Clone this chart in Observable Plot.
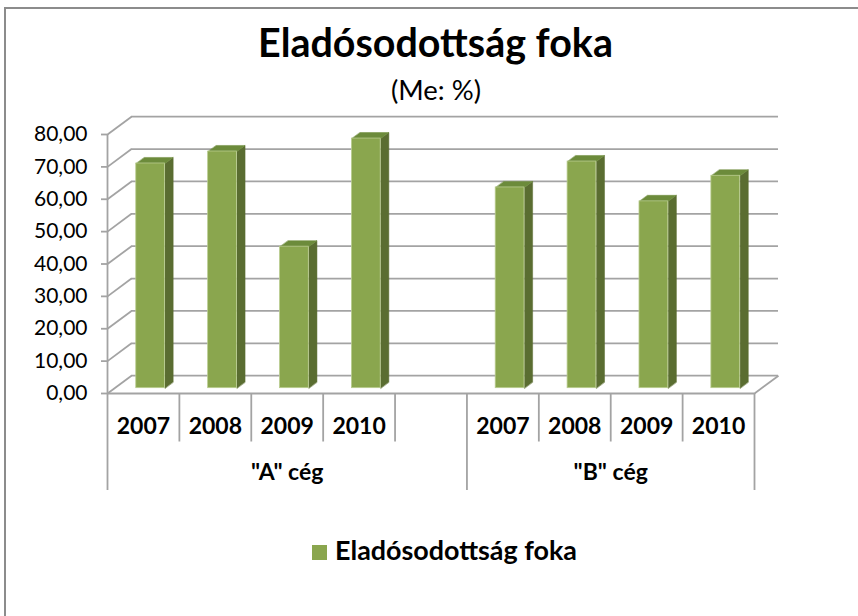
<!DOCTYPE html>
<html>
<head>
<meta charset="utf-8">
<script src="https://cdn.jsdelivr.net/npm/d3@7"></script>
<script src="https://cdn.jsdelivr.net/npm/@observablehq/plot@0.6"></script>
<style>
  body { margin: 0; background: #fff; }
  #wrap { position: relative; width: 858px; height: 616px; overflow: hidden; font-family: Lato, "Open Sans", sans-serif; color: #000; }
  #frame { position: absolute; left: 4px; top: 7px; width: 900px; height: 700px; border-top: 2px solid #8c8c8c; border-left: 2px solid #8c8c8c; }
  .txt { position: absolute; white-space: nowrap; line-height: 1; }
  #title { font-weight: 700; }
  #subtitle { font-weight: 400; }
  #chart { position: absolute; left: 0; top: 110px; }
</style>
</head>
<body>
<div id="wrap">
  <div id="frame"></div>
  <div id="title" class="txt"></div>
  <div id="subtitle" class="txt"></div>
  <div id="chart"></div>
  <span id="legendSw" style="position:absolute;width:15px;height:15px;background:#8aa64e;"></span>
  <span id="legend" class="txt" style="font-weight:700;"></span>
</div>
<script>
// ---- data ----
const titleText = "Eladósodottság foka";
const subtitleText = "(Me: %)";
const seriesName = "Eladósodottság foka";
const groups = ['"A" cég', '"B" cég'];
const yearsA = ["2007", "2008", "2009", "2010", ""];
const valuesA = [69.4, 73.1, 43.7, 77.1, null];
const yearsB = ["2007", "2008", "2009", "2010"];
const valuesB = [62.0, 70.0, 57.7, 65.6];
const yTicks = [0, 10, 20, 30, 40, 50, 60, 70, 80];

// ---- build table ----
const rows = [];
const groupSpans = [];
let slot = 0;
[[groups[0], yearsA, valuesA], [groups[1], yearsB, valuesB]].forEach(([g, ys, vs]) => {
  const start = slot;
  ys.forEach((y, i) => { rows.push({group: g, year: y, value: vs[i], slot, id: g + "|" + i}); slot++; });
  groupSpans.push({group: g, start, end: slot});
});
const nSlots = slot;

// ---- geometry ----
const W = 858, H = 400, mL = 107, mR = 104, mT = 24, mB = 117;
const yMax = 80;
const pxPerSlot = (W - mL - mR) / nSlots;
const pxPerUnit = (H - mT - mB) / yMax;
const DX = 24 / pxPerSlot;      // depth offset in slot units
const DY = 17.8 / pxPerUnit;    // depth offset in value units
const f0 = 0.3, f1 = 0.64, bw = 0.4;
const px2u = p => p / pxPerUnit;

const gridC = "#a3a3a3", gridW = 1.8;
const frontC = "#8aa64e", sideC = "#5a6d31", topC = "#6c8b3b";

const bars = rows.filter(d => d.value != null);
const sidePolys = [], topPolys = [];
bars.forEach(d => {
  const x0 = d.slot + 0.5 - bw / 2 + f0 * DX, x1 = x0 + bw, dd = (f1 - f0) * DX;
  const yb0 = f0 * DY, yb1 = f1 * DY, v = d.value;
  sidePolys.push({id: d.id, x: x1, y: yb0}, {id: d.id, x: x1, y: v + yb0}, {id: d.id, x: x1 + dd, y: v + yb1}, {id: d.id, x: x1 + dd, y: yb1});
  topPolys.push({id: d.id, x: x0, y: v + yb0}, {id: d.id, x: x1, y: v + yb0}, {id: d.id, x: x1 + dd, y: v + yb1}, {id: d.id, x: x0 + dd, y: v + yb1});
});

const yearBounds = Array.from(new Set(rows.map(d => d.slot).filter(s => s > 0 && !groupSpans.some(g => g.start === s))));
const groupBounds = Array.from(new Set(groupSpans.flatMap(s => [s.start, s.end])));

const chart = Plot.plot({
  width: W, height: H,
  marginLeft: mL, marginRight: mR, marginTop: mT, marginBottom: mB,
  x: {domain: [0, nSlots], axis: null},
  y: {domain: [0, yMax]},
  style: {fontFamily: "Lato, 'Open Sans', sans-serif", color: "#000", background: "transparent", overflow: "visible"},
  marks: [
    Plot.ruleY(yTicks, {y: d => d + DY, x1: DX, x2: nSlots + DX, stroke: gridC, strokeWidth: gridW}),
    Plot.link(yTicks, {x1: 0, y1: d => d, x2: DX, y2: d => d + DY, stroke: gridC, strokeWidth: gridW}),
    Plot.link([0], {x1: nSlots, y1: 0, x2: nSlots + DX, y2: DY, stroke: gridC, strokeWidth: gridW}),
    Plot.ruleX([0], {y1: 0, y2: yMax, stroke: gridC, strokeWidth: gridW}),
    Plot.line(sidePolys, {x: "x", y: "y", z: "id", fill: sideC, stroke: sideC, strokeWidth: 0.5, curve: "linear-closed"}),
    Plot.line(topPolys, {x: "x", y: "y", z: "id", fill: topC, stroke: topC, strokeWidth: 0.5, curve: "linear-closed"}),
    Plot.rect(bars, {x1: d => d.slot + 0.5 - bw / 2 + f0 * DX, x2: d => d.slot + 0.5 + bw / 2 + f0 * DX, y1: f0 * DY, y2: d => d.value + f0 * DY, fill: frontC, stroke: "#b9cc8f", strokeWidth: 0.8}),
    Plot.ruleY([0], {x1: 0, x2: nSlots, stroke: gridC, strokeWidth: gridW}),
    Plot.ruleX(yearBounds, {x: d => d, y1: 0, y2: -px2u(48.5), stroke: gridC, strokeWidth: gridW}),
    Plot.ruleX(groupBounds, {x: d => d, y1: 0, y2: -px2u(97), stroke: gridC, strokeWidth: gridW}),
    Plot.axisY(yTicks, {anchor: "left", tickSize: 6, tickPadding: 14, tickFormat: d => d.toFixed(2).replace(".", ","), fontSize: 21, stroke: gridC, strokeWidth: gridW, fill: "#000", label: null}),
    Plot.text(rows.filter(d => d.year !== ""), {x: d => d.slot + 0.5, y: 0, dy: 32.7, text: "year", fontSize: 23, fontWeight: "bold", fill: "#000"}),
    Plot.text(groupSpans, {x: d => (d.start + d.end) / 2, y: 0, dy: 79, text: "group", fontSize: 23, fontWeight: "bold", fill: "#000"})
  ]
});
document.getElementById("chart").appendChild(chart);

// ---- HTML title, subtitle, legend fitted to reference widths ----
function place(el, text, targetW, centerX, baseline, fs0) {
  el.textContent = text;
  el.style.fontSize = fs0 + "px";
  const w0 = el.getBoundingClientRect().width;
  const fs = fs0 * targetW / w0;
  el.style.fontSize = fs + "px";
  const w = el.getBoundingClientRect().width;
  el.style.left = (centerX - w / 2) + "px";
  el.style.top = (baseline - 0.887 * fs) + "px";
  return fs;
}
place(document.getElementById("title"), titleText, 355, 435.5, 57, 36);
place(document.getElementById("subtitle"), subtitleText, 90, 436, 100, 26);
place(document.getElementById("legend"), seriesName, 242, 335 + 121, 561, 26);
const sw = document.getElementById("legendSw");
sw.style.left = "312px";
sw.style.top = "545px";
</script>
</body>
</html>
